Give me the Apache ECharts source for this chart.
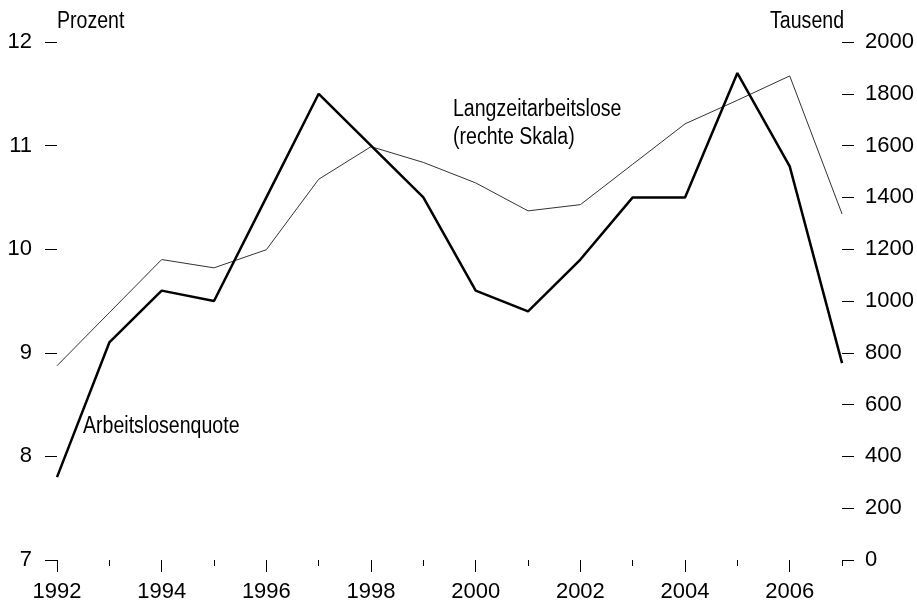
<!DOCTYPE html>
<html>
<head>
<meta charset="utf-8">
<script src="https://cdn.jsdelivr.net/npm/echarts@6/dist/echarts.min.js"></script>
<style>html,body{margin:0;padding:0;background:#fff}#c{width:917px;height:603px}</style>
</head>
<body>
<div id="c"></div>
<script>
const years = ['1992','1993','1994','1995','1996','1997','1998','1999','2000','2001','2002','2003','2004','2005','2006','2007'];
const arbeitslosenquote = [7.8, 9.1, 9.6, 9.5, 10.5, 11.5, 11.0, 10.5, 9.6, 9.4, 9.9, 10.5, 10.5, 11.7, 10.8, 8.9];
const langzeitarbeitslose = [750, 955, 1160, 1128, 1198, 1470, 1596, 1535, 1456, 1348, 1372, 1528, 1684, 1775, 1869, 1336];
const leftTicks = {min: 7, max: 12, interval: 1};
const rightTicks = {min: 0, max: 2000, interval: 200};

const FONT = '"Liberation Sans", Arial, sans-serif';
const FS = 22;
const TFS = 23;
const SX = 0.85;
const chart = echarts.init(document.getElementById('c'), null, {renderer: 'canvas'});
const tickStyle = {color: '#000', width: 1};
chart.setOption({
  animation: false,
  backgroundColor: '#fff',
  grid: {left: 57, right: 71, top: 42, bottom: 43, containLabel: false},
  xAxis: [
    {
      type: 'category', data: years, boundaryGap: false, position: 'bottom',
      axisLine: {show: false},
      axisTick: {show: true, length: 12, interval: (i) => i % 2 === 0, lineStyle: tickStyle},
      axisLabel: {show: true, interval: (i) => i % 2 === 0, margin: 21, color: '#000', fontFamily: FONT, fontSize: FS},
      splitLine: {show: false}
    },
    {
      type: 'category', data: years, boundaryGap: false, position: 'bottom',
      axisLine: {show: false},
      axisTick: {show: true, length: 6, interval: 0, lineStyle: tickStyle},
      axisLabel: {show: false},
      splitLine: {show: false}
    }
  ],
  yAxis: [
    {
      type: 'value', position: 'left', min: leftTicks.min, max: leftTicks.max, interval: leftTicks.interval,
      axisLine: {show: false},
      axisTick: {show: true, length: 12, lineStyle: tickStyle},
      axisLabel: {margin: 25, color: '#000', fontFamily: FONT, fontSize: FS, formatter: (v) => String(v)},
      splitLine: {show: false}
    },
    {
      type: 'value', position: 'right', min: rightTicks.min, max: rightTicks.max, interval: rightTicks.interval,
      axisLine: {show: false},
      axisTick: {show: true, length: 12, lineStyle: tickStyle},
      axisLabel: {margin: 23, color: '#000', fontFamily: FONT, fontSize: FS, formatter: (v) => String(v)},
      splitLine: {show: false}
    }
  ],
  series: [
    {
      name: 'Langzeitarbeitslose', type: 'line', xAxisIndex: 0, yAxisIndex: 1,
      data: langzeitarbeitslose, symbol: 'none', lineStyle: {color: '#333', width: 1}, z: 2
    },
    {
      name: 'Arbeitslosenquote', type: 'line', xAxisIndex: 0, yAxisIndex: 0,
      data: arbeitslosenquote, symbol: 'none', lineStyle: {color: '#000', width: 2.5}, z: 3
    }
  ],
  graphic: [
    {type: 'text', x: 57, y: 22, scaleX: SX, style: {text: 'Prozent', fill: '#000', font: TFS + 'px ' + FONT, textAlign: 'left', textVerticalAlign: 'middle'}},
    {type: 'text', x: 844, y: 22, scaleX: SX, style: {text: 'Tausend', fill: '#000', font: TFS + 'px ' + FONT, textAlign: 'right', textVerticalAlign: 'middle'}},
    {type: 'text', x: 453, y: 110, scaleX: SX, style: {text: 'Langzeitarbeitslose', fill: '#000', font: TFS + 'px ' + FONT, textAlign: 'left', textVerticalAlign: 'middle'}},
    {type: 'text', x: 453, y: 138, scaleX: SX, style: {text: '(rechte Skala)', fill: '#000', font: TFS + 'px ' + FONT, textAlign: 'left', textVerticalAlign: 'middle'}},
    {type: 'text', x: 83, y: 427, scaleX: SX, style: {text: 'Arbeitslosenquote', fill: '#000', font: TFS + 'px ' + FONT, textAlign: 'left', textVerticalAlign: 'middle'}}
  ]
});
</script>
</body>
</html>
